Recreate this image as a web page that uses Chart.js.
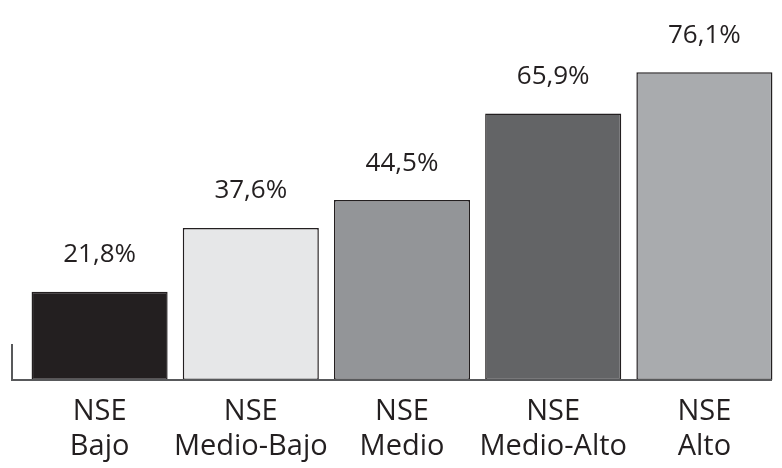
<!DOCTYPE html>
<html>
<head>
<meta charset="utf-8">
<script src="https://cdn.jsdelivr.net/npm/chart.js@4.4.1/dist/chart.umd.min.js"></script>
<style>
  html, body { margin: 0; padding: 0; background: #ffffff; }
  #wrap { width: 782px; height: 468px; }
</style>
</head>
<body>
<div id="wrap"><canvas id="c" width="782" height="468"></canvas></div>
<script>
// Socio-economic levels (NSE) and their share, in percent
const categories = [["NSE", "Bajo"], ["NSE", "Medio-Bajo"], ["NSE", "Medio"], ["NSE", "Medio-Alto"], ["NSE", "Alto"]];
const values = [21.8, 37.6, 44.5, 65.9, 76.1];
const barColors = ["#231f20", "#e6e7e8", "#939598", "#636466", "#a9abae"];

const INK = "#231f20";
const FONT = "'Open Sans', Lato, sans-serif";

// Percent labels above each bar, written with a decimal comma
const valueLabels = {
  id: "valueLabels",
  afterDatasetsDraw(chart) {
    const ctx = chart.ctx;
    const meta = chart.getDatasetMeta(0);
    ctx.save();
    ctx.font = "26px " + FONT;
    ctx.fillStyle = INK;
    ctx.textAlign = "center";
    ctx.textBaseline = "middle";
    meta.data.forEach((bar, i) => {
      const txt = values[i].toFixed(1).replace(".", ",") + "%";
      ctx.fillText(txt, bar.x, bar.y - 37);
    });
    ctx.restore();
  }
};

// Thin baseline and short left stub
const baseLines = {
  id: "baseLines",
  afterDatasetsDraw(chart) {
    const { ctx, chartArea } = chart;
    ctx.save();
    ctx.strokeStyle = "#58595b";
    ctx.lineWidth = 2;
    ctx.beginPath();
    ctx.moveTo(12, chartArea.bottom - 36);
    ctx.lineTo(12, chartArea.bottom);
    ctx.lineTo(772, chartArea.bottom);
    ctx.stroke();
    ctx.restore();
  }
};

new Chart(document.getElementById("c"), {
  type: "bar",
  data: {
    labels: categories,
    datasets: [{
      data: values,
      backgroundColor: barColors,
      borderColor: INK,
      borderWidth: 1.5,
      borderSkipped: false,
      categoryPercentage: 1.0,
      barPercentage: 0.9
    }]
  },
  options: {
    responsive: false,
    animation: false,
    devicePixelRatio: 1,
    layout: { padding: { left: 24, right: 2, top: 0, bottom: 0 } },
    plugins: { legend: { display: false }, tooltip: { enabled: false } },
    scales: {
      x: {
        grid: { display: false, drawTicks: false },
        border: { display: false },
        ticks: {
          color: INK,
          font: { family: FONT, size: 29, lineHeight: 1.22 },
          padding: 14,
          maxRotation: 0,
          autoSkip: false
        },
        afterFit(scale) { scale.height = 88; }
      },
      y: {
        display: false,
        min: 0,
        max: 94
      }
    }
  },
  plugins: [valueLabels, baseLines]
});
</script>
</body>
</html>
